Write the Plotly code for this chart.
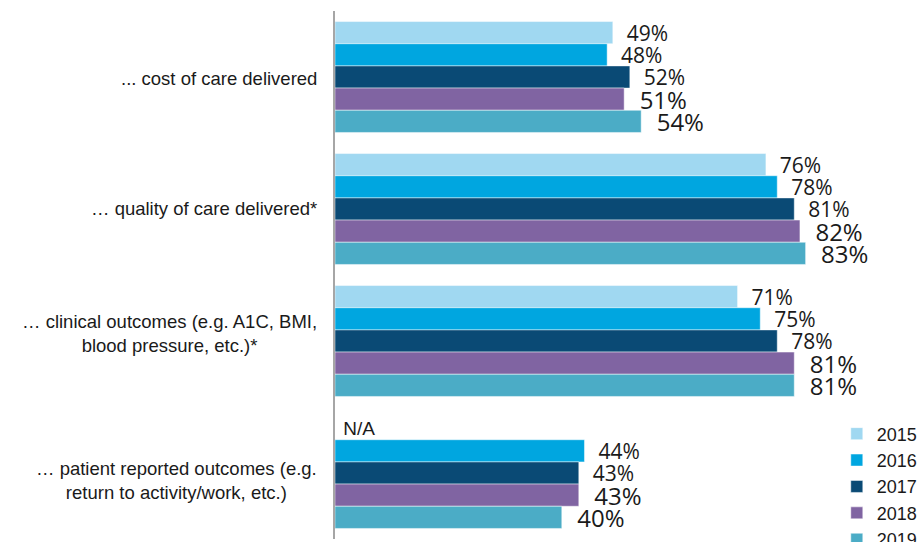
import plotly.graph_objects as go

# Survey categories (top to bottom) and yearly shares in percent
categories = [
    "... cost of care delivered",
    "… quality of care delivered*",
    "… clinical outcomes (e.g. A1C, BMI,<br>blood pressure, etc.)*",
    "… patient reported outcomes (e.g.<br>return to activity/work, etc.)",
]
years = ["2015", "2016", "2017", "2018", "2019"]
values_2015 = [49, 76, 71, None]
values_2016 = [48, 78, 75, 44]
values_2017 = [52, 81, 78, 43]
values_2018 = [51, 82, 81, 43]
values_2019 = [54, 83, 81, 40]
series = [values_2015, values_2016, values_2017, values_2018, values_2019]

colors = ["#A0D8F1", "#00A6E0", "#0A4A75", "#8064A2", "#4BACC6"]
label_sizes = [21, 21, 21, 24, 24]
pad = "\u00a0\u00a0"

# fine vertical nudges (px) for the category captions
caption_nudge = [-1, 1, 8, -7]

fig = go.Figure()
for year, vals, color, size in zip(years, series, colors, label_sizes):
    xs, texts, fams, sizes = [], [], [], []
    for v in vals:
        if v is None:
            xs.append(0)
            texts.append("\u00a0N/A")
            fams.append("Liberation Sans, Arial, sans-serif")
            sizes.append(19)
        else:
            xs.append(v)
            texts.append(f"{pad}{v}%")
            fams.append("Open Sans, sans-serif")
            sizes.append(size)
    fig.add_trace(go.Bar(
        name=year,
        y=list(range(len(categories))),
        x=xs,
        orientation="h",
        marker=dict(color=color, line=dict(color="rgba(255,255,255,0.6)", width=0.8)),
        text=texts,
        textposition="outside",
        textfont=dict(family=fams, size=sizes, color="#1a1a1a"),
        constraintext="none",
        cliponaxis=False,
        hoverinfo="skip",
    ))

# Category captions, centred per line, left of the axis
for i, (cat, nudge) in enumerate(zip(categories, caption_nudge)):
    fig.add_annotation(
        x=0, xref="paper", xanchor="right", xshift=-16,
        y=i, yref="y", yanchor="middle", yshift=nudge,
        text=cat, showarrow=False, align="center",
        font=dict(family="Liberation Sans, Arial, sans-serif", size=18.5, color="#1a1a1a"),
    )

fig.update_layout(
    width=921, height=542,
    margin=dict(l=335, r=19, t=11, b=3, autoexpand=False),
    paper_bgcolor="white", plot_bgcolor="white",
    barmode="group", bargap=0.16, bargroupgap=0,
    showlegend=True,
    legend=dict(
        x=0.885, xanchor="left", y=0.234, yanchor="top",
        font=dict(family="Liberation Sans, Arial, sans-serif", size=18, color="#1a1a1a"),
        bgcolor="rgba(0,0,0,0)", traceorder="normal",
    ),
    xaxis=dict(range=[0, 100], visible=False, fixedrange=True),
    yaxis=dict(
        range=[3.5, -0.5], showticklabels=False, ticks="",
        showline=True, linecolor="#A6A6A6", linewidth=2,
        showgrid=False, zeroline=False, fixedrange=True,
    ),
)

fig.write_html("out.html")
